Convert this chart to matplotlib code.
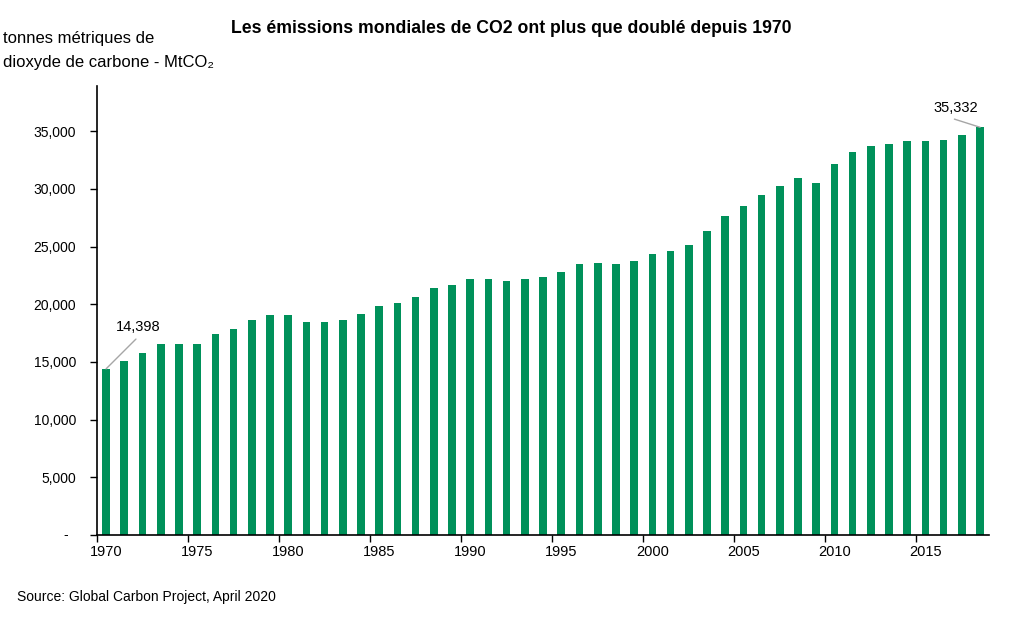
import matplotlib
matplotlib.use("Agg")
import matplotlib.pyplot as plt
import matplotlib.ticker as mticker

years = list(range(1970, 2019))
emissions = [14398, 15040, 15740, 16570, 16520, 16570, 17440, 17870, 18600, 19090,
             19030, 18470, 18420, 18600, 19140, 19830, 20140, 20660, 21410, 21700,
             22220, 22220, 21980, 22220, 22330, 22820, 23460, 23580, 23460, 23740,
             24380, 24640, 25160, 26370, 27620, 28480, 29430, 30240, 30970, 30540,
             32120, 33160, 33710, 33880, 34110, 34110, 34230, 34660, 35332]
yticks = [0, 5000, 10000, 15000, 20000, 25000, 30000, 35000]
xlabel_years = [1970, 1975, 1980, 1985, 1990, 1995, 2000, 2005, 2010, 2015]

title = "Les émissions mondiales de CO2 ont plus que doublé depuis 1970"
unit_label = "tonnes métriques de\ndioxyde de carbone - MtCO\u2082"
source = "Source: Global Carbon Project, April 2020"

plt.rcParams['font.family'] = ['Liberation Sans', 'DejaVu Sans']

fig = plt.figure(figsize=(10.24, 6.24), dpi=100)
ax = fig.add_axes([0.0947, 0.1426, 0.966 - 0.0947, 0.862 - 0.1426])

ax.bar(years, emissions, width=0.42, color='#00915A')

ax.set_xlim(1969.5, 2018.5)
ax.set_ylim(0, 38900)

# y axis
ax.set_yticks(yticks)
ax.yaxis.set_major_formatter(mticker.FuncFormatter(lambda v, p: "" if v == 0 else f"{int(v):,}"))
ax.tick_params(axis='y', direction='out', length=5, width=1, pad=10, labelsize=10, colors='black')
ax.text(-0.032, 0, "-", transform=ax.get_yaxis_transform(), ha='right', va='center', fontsize=10)

# x axis: tick marks at group boundaries, labels centered under bars
ax.xaxis.set_major_locator(mticker.FixedLocator([y - 0.5 for y in xlabel_years]))
ax.xaxis.set_major_formatter(mticker.NullFormatter())
ax.xaxis.set_minor_locator(mticker.FixedLocator(xlabel_years))
ax.xaxis.set_minor_formatter(mticker.FixedFormatter([str(y) for y in xlabel_years]))
ax.tick_params(axis='x', which='major', direction='out', length=5, width=1)
ax.tick_params(axis='x', which='minor', length=0, pad=7, labelsize=10.5)

for s in ['top', 'right']:
    ax.spines[s].set_visible(False)
for s in ['left', 'bottom']:
    ax.spines[s].set_linewidth(1.2)

# annotations: leader lines and labels
ax.annotate("", xy=(years[0], emissions[0]), xytext=(1971.64, 16980),
            arrowprops=dict(arrowstyle='-', color='#A6A6A6', lw=1, shrinkA=0, shrinkB=0))
ax.text(1971.75, 18050, f"{emissions[0]:,}", ha='center', va='center', fontsize=10.5)
ax.annotate("", xy=(years[-1], emissions[-1]), xytext=(2016.59, 36040),
            arrowprops=dict(arrowstyle='-', color='#A6A6A6', lw=1, shrinkA=0, shrinkB=0))
ax.text(2016.65, 37000, f"{emissions[-1]:,}", ha='center', va='center', fontsize=10.5)

fig.text(0.499, 0.955, title, ha='center', va='center', fontsize=12.7, fontweight='bold')
fig.text(0.003, 0.919, unit_label, ha='left', va='center', fontsize=12, linespacing=1.75)
fig.text(0.017, 0.043, source, ha='left', va='center', fontsize=10)

fig.savefig("out.png", dpi=100)
